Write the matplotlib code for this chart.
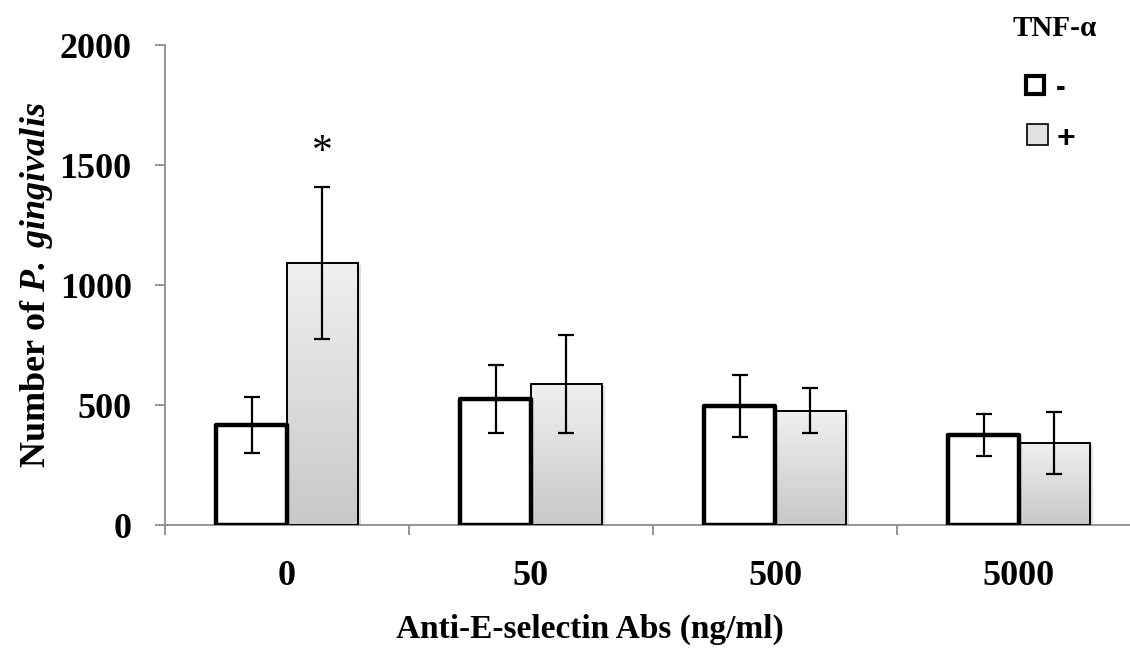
import numpy as np
import matplotlib
matplotlib.use("Agg")
import matplotlib.pyplot as plt
from matplotlib.patches import Rectangle
from matplotlib.colors import LinearSegmentedColormap

plt.rcParams["font.family"] = "Liberation Serif"
plt.rcParams["mathtext.fontset"] = "custom"
plt.rcParams["mathtext.bfit"] = "Liberation Serif:italic:bold"
plt.rcParams["mathtext.rm"] = "Liberation Serif:bold"

categories = ["0", "50", "500", "5000"]
minus_vals = [417, 525, 496, 375]
minus_err = [116, 140, 129, 88]
plus_vals = [1092, 588, 477, 342]
plus_err = [318, 204, 95, 130]

fig = plt.figure(figsize=(11.3, 6.49), dpi=100)
ax = fig.add_axes([165 / 1130, 124 / 649, 976 / 1130, 480 / 649])

x = np.arange(len(categories))
w = 0.29
off = 0.145

# gradient for the "+" bars
grad = np.linspace(0, 1, 256).reshape(-1, 1)
gcmap = LinearSegmentedColormap.from_list("g", ["#c8c8c8", "#f0f0f0"])

for i in range(len(categories)):
    # subtle shadow
    ax.add_patch(Rectangle((x[i] + off - w / 2 + 0.012, 0), w, plus_vals[i] - 10,
                           facecolor="#dddddd", edgecolor="none", zorder=1))
    bar = ax.bar(x[i] + off, plus_vals[i], w, facecolor="none", edgecolor="black",
                 linewidth=1.4, zorder=3)[0]
    im = ax.imshow(grad, cmap=gcmap, aspect="auto", origin="lower",
                   extent=[x[i] + off - w / 2, x[i] + off + w / 2, 0, plus_vals[i]],
                   zorder=2)
    im.set_clip_path(bar)

ax.bar(x - off, minus_vals, w, facecolor="white", edgecolor="black", linewidth=3.2,
       joinstyle="round", zorder=3)

ax.errorbar(x - off, minus_vals, yerr=minus_err, fmt="none", ecolor="black",
            elinewidth=1.6, capsize=6, capthick=1.6, zorder=4)
ax.errorbar(x + off, plus_vals, yerr=plus_err, fmt="none", ecolor="black",
            elinewidth=1.6, capsize=6, capthick=1.6, zorder=4)

ax.text(x[0] + off, plus_vals[0] + plus_err[0] + 140, "*", ha="center", va="center",
        fontsize=30, color="black")

ax.set_xlim(-0.5, 3.5)
ax.set_ylim(0, 2000)
ax.set_yticks([0, 500, 1000, 1500, 2000])
ax.set_xticks([-0.5, 0.5, 1.5, 2.5, 3.5])
ax.set_xticklabels([])
ax.set_xticks(x, minor=True)
ax.set_xticklabels(categories, minor=True)
ax.tick_params(axis="x", which="minor", length=0, pad=25, labelsize=26)
ax.tick_params(axis="x", which="major", direction="out", length=7, width=1.3,
               color="#8c8c8c")
ax.tick_params(axis="y", direction="out", length=7, width=1.3, color="#8c8c8c",
               labelsize=26, pad=17)
for lab in ax.get_xticklabels(minor=True) + ax.get_yticklabels():
    lab.set_fontweight("bold")

for side in ("top", "right"):
    ax.spines[side].set_visible(False)
for side in ("left", "bottom"):
    ax.spines[side].set_color("#8c8c8c")
    ax.spines[side].set_linewidth(1.3)

ax.set_xlabel("Anti-E-selectin Abs (ng/ml)", fontsize=24, fontweight="bold")
ax.xaxis.set_label_coords((590 - 165) / 976, -0.185)
ax.set_ylabel(r"Number of $\mathbfit{P.\,gingivalis}$", fontsize=26,
              fontweight="bold")
ax.yaxis.set_label_coords(-0.113, 0.5)

# legend
fig.text(1055 / 1130, 1 - 29 / 649, "TNF-\u03b1", fontsize=21, fontweight="bold",
         ha="center", va="center")
fig.add_artist(Rectangle((1026 / 1130, 1 - 94 / 649), 18 / 1130, 18 / 649,
                         transform=fig.transFigure, facecolor="white",
                         edgecolor="black", linewidth=3))
fig.text(1061 / 1130, 1 - 88 / 649, "-", fontsize=21, fontweight="bold",
         family="Liberation Sans", ha="center", va="center")
fig.add_artist(Rectangle((1027 / 1130, 1 - 145 / 649), 21 / 1130, 21 / 649,
                         transform=fig.transFigure, facecolor="#e2e2e2",
                         edgecolor="black", linewidth=1.2))
fig.text(1066 / 1130, 1 - 139 / 649, "+", fontsize=23, fontweight="bold",
         family="Liberation Sans", ha="center", va="center")

fig.savefig("out.png", dpi=100)
